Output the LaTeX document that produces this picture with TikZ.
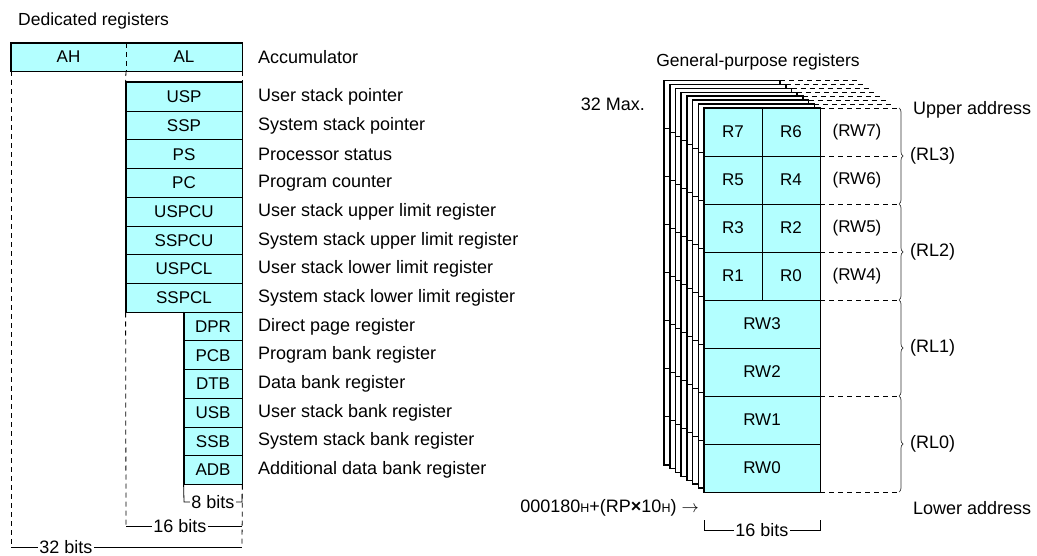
\documentclass[tikz,border=0pt]{standalone}
\usepackage{fontspec}
\setmainfont{Liberation Sans}
\usetikzlibrary{decorations.pathreplacing}
\definecolor{regcyan}{RGB}{179,255,255}
\begin{document}
\begin{tikzpicture}[x=1pt,y=-1pt,
  font=\fontsize{18}{21}\selectfont,
  thickln/.style={line width=1.6pt},
  thinln/.style={line width=0.8pt},
  dashln/.style={line width=0.8pt, dash pattern=on 5pt off 4pt},
  reg/.style={draw, line width=0.8pt, fill=regcyan, inner sep=0pt, minimum height=28.7pt, font=\fontsize{17}{20}\selectfont},
  lbl/.style={anchor=west, inner sep=0pt},
  ttl/.style={anchor=base, inner sep=0pt, font=\fontsize{17.5}{20}\selectfont},
  dimtxt/.style={fill=white, inner xsep=1.5pt, inner ysep=0pt},
  brc/.style={line width=0.7pt, draw=black!80, decorate, decoration={brace, amplitude=4pt}},
  cell/.style={inner sep=0pt, font=\fontsize{17}{20}\selectfont}
  ]
\useasboundingbox (0,0) rectangle (1037,556);

% ---------------- Dedicated registers ----------------
\node[ttl, anchor=base west] (dtitle) at (18,26) {Dedicated registers};

\node[fill=regcyan, minimum width=231pt, minimum height=28pt, inner sep=0pt, anchor=north west] (acc) at (11,43) {};
\draw[dashln] (126,43) -- (126,71);
\draw[thickln] (acc.north west) rectangle (acc.south east);
\node[cell] (ah) at (68.5,57) {AH};
\node[cell] (al) at (184,57) {AL};
\node[lbl] (lacc) at (258,57) {Accumulator};

\foreach \n [count=\i from 0] in {USP,SSP,PS,PC,USPCU,SSPCU,USPCL,SSPCL}
  \node[reg, minimum width=116pt] (r\i) at (184,{82.5+28.7*\i+14.35}) {\n};
\foreach \n [count=\i from 8] in {DPR,PCB,DTB,USB,SSB,ADB}
  \node[reg, minimum width=58pt] (r\i) at (213,{82.5+28.7*\i+14.35}) {\n};
\draw[thickln] (r0.north west) rectangle (r7.south east);
\draw[line width=1.3pt] (r8.north west) -- (r13.south west);

\foreach \t [count=\i from 0] in {User stack pointer,System stack pointer,Processor status,Program counter,User stack upper limit register,System stack upper limit register,User stack lower limit register,System stack lower limit register,Direct page register,Program bank register,Data bank register,User stack bank register,System stack bank register,Additional data bank register}
  \node[lbl] (l\i) at (258,{82.5+28.7*\i+14.35}) {\t};

% guide lines
\coordinate (b32l) at (11,547);
\coordinate (b32r) at (242,547);
\coordinate (b16l) at (126,526);
\coordinate (b16r) at (242,526);
\coordinate (b8l) at (184,502);
\coordinate (b8r) at (242,502);
\draw[dashln] (acc.south west) -- (b32l);
\draw[dashln] (126,71) -- (r0.north west);
\draw[dashln] (r7.south west) -- (b16l);
\draw[dashln] (acc.south east) -- (r0.north east);
\draw[dashln] (r13.south east) -- (b32r);

\draw[thinln] (r13.south west) -- (b8l) -- (b8r) -- (242,494);
\node[dimtxt] (t8) at (213,502) {8 bits};
\draw[thinln] (b16l) -- (b16r);
\node[dimtxt] (t16) at (180,526) {16 bits};
\draw[thinln] (b32l) -- (b32r);
\node[dimtxt] (t32) at (66,547) {32 bits};

% ---------------- General-purpose registers ----------------
\node[ttl] (gtitle) at (758,67) {General-purpose registers};
\node (max) at (613,104) {32 Max.};

\foreach \k in {7,...,1} {
  \begin{scope}[shift={(-5.7*\k,-3.9*\k)}]
    \draw[thickln, fill=white] (704,108) rectangle (820,492);
    \foreach \yy in {156,204,...,444} \draw[line width=1pt] (704,\yy) -- (820,\yy);
    \draw[dashln] (820,108) -- (897,108);
  \end{scope}
}

\node[fill=regcyan, minimum width=116pt, minimum height=384pt, inner sep=0pt, anchor=north west] (gp) at (704,108) {};
\foreach \yy in {156,204,...,444} \draw[thinln] (704,\yy) -- (820,\yy);
\draw[thinln] (762,108) -- (762,300);
\draw[thickln] (gp.north west) rectangle (gp.south east);

\foreach \a/\b/\c [count=\i from 0] in {R7/R6/RW7,R5/R4/RW6,R3/R2/RW5,R1/R0/RW4} {
  \node[cell] (ra\i) at (733,{132+48*\i}) {\a};
  \node[cell] (rb\i) at (791,{132+48*\i}) {\b};
  \node[cell] (rw\i) at (857,{132+48*\i}) {(\c)};
}
\foreach \n [count=\i from 0] in {RW3,RW2,RW1,RW0}
  \node[cell] (rwl\i) at (762,{324+48*\i}) {\n};

\foreach \yy in {108,156,204,252,300,396,492}
  \draw[dashln] (820,\yy) -- (897,\yy);

\draw[brc] (899,108) -- (899,204);
\draw[brc] (899,204) -- (899,300);
\draw[brc] (899,300) -- (899,396);
\draw[brc] (899,396) -- (899,492);
\foreach \n [count=\i from 0] in {RL3,RL2,RL1,RL0}
  \node[lbl] (rl\i) at (910,{156+96*\i}) {(\n)};

\node[lbl] (upper) at (913,110) {Upper address};
\node[lbl] (lower) at (913,508) {Lower address};
\node[anchor=east, inner sep=0pt] (addr) at (699,508) {000180{\fontsize{12.5}{14}\selectfont H}+(RP\textbf{×}10{\fontsize{12.5}{14}\selectfont H}) $\rightarrow$};

\coordinate (g16l) at (704,520);
\coordinate (g16r) at (820,520);
\draw[thinln] (g16l) -- (704,530) -- (820,530) -- (g16r);
\node[dimtxt] (tg16) at (762,530) {16 bits};
\end{tikzpicture}
\end{document}
